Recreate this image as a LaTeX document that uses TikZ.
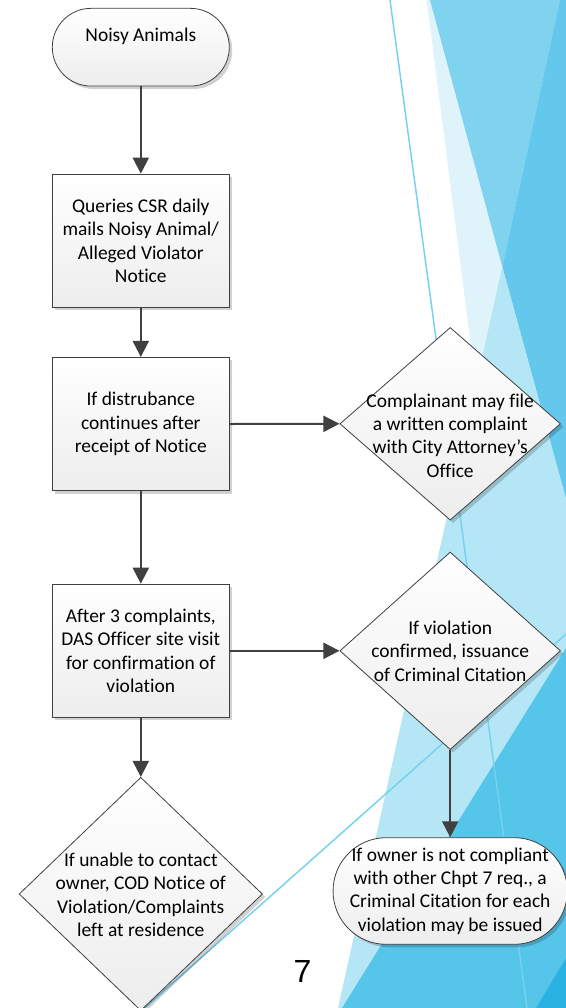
\documentclass[tikz,border=0pt]{standalone}
\usepackage{fontspec}
\setmainfont{Carlito}[Ligatures={NoCommon,NoContextual}]
\newfontfamily\arialfont{Liberation Sans}
\usetikzlibrary{shapes.geometric,shadows,arrows.meta}
\definecolor{bgZ}{HTML}{DFF3FB}
\definecolor{bgM}{HTML}{7FD3EF}
\definecolor{bgD}{HTML}{63C8EC}
\definecolor{bgL}{HTML}{B5E6F6}
\definecolor{bgW}{HTML}{55C5EA}
\definecolor{bgC}{HTML}{2AB2E3}
\definecolor{bgLine}{HTML}{74D2F0}
\definecolor{edge}{HTML}{404040}
\begin{document}
\begin{tikzpicture}[x=0.75pt,y=-0.75pt,
  shp/.style={draw=edge, line width=0.6pt, top color=white, bottom color=black!7,
    drop shadow={shadow xshift=2.2pt, shadow yshift=-2.2pt, fill=black, opacity=0.18}},
  procbox/.style={shp, rectangle, minimum width=132.75pt, minimum height=100pt, inner sep=0pt,
    align=center, font=\fontsize{14.6pt}{17.6pt}\selectfont},
  termbox/.style={shp, rectangle, inner sep=0pt, align=center, font=\fontsize{14.6pt}{17.6pt}\selectfont},
  dia/.style={shp, diamond, inner sep=0pt},
  txt/.style={align=center, font=\fontsize{14.6pt}{17.6pt}\selectfont, text=black, inner sep=0pt},
  arr/.style={draw=edge, line width=1.5pt, -{Triangle[length=12pt,width=12pt]}},
  thinline/.style={draw=bgLine, line width=1.1pt},
]
\useasboundingbox (0,0) rectangle (566,1008);
\clip (0,0) rectangle (566,1008);
% background facets
\fill[bgZ] (426.7,0) -- (566,0) -- (566,1008) -- (555.7,1008) -- cycle;
\fill[bgM] (430,0) -- (560,0) -- (502.3,266.7) -- cycle;
\fill[bgD] (560,0) -- (566,0) -- (566,499) -- (502.3,266.7) -- cycle;
\fill[bgL] (502.3,266.7) -- (566,499) -- (566,1008) -- (338,1008) -- cycle;
\fill[bgW] (566,648) -- (566,1008) -- (342,1008) -- cycle;
\fill[bgC] (566,958) -- (566,1008) -- (536,1008) -- cycle;
\draw[thinline] (390,0) -- (527,1008);
\draw[thinline] (140,1012) -- (566,634);
% nodes
\node[termbox, minimum width=132.75pt, minimum height=58.3pt, rounded corners=29.1pt] (start) at (140.8,47.2) {};
\node[txt] (starttxt) at (140.8,36) {Noisy Animals};
\node[procbox] (b1) at (140.8,240.7) {Queries CSR daily\\mails Noisy Animal/\\Alleged Violator\\Notice};
\node[procbox] (b2) at (140.8,424) {If distrubance\\continues after\\receipt of Notice};
\node[procbox] (b3) at (140.8,650.8) {After 3 complaints,\\DAS Officer site visit\\for confirmation of\\violation};
\node[dia, minimum width=165.5pt, minimum height=144.5pt] (d1) at (450.2,423.8) {};
\node[txt] (d1txt) at (450.2,435.5) {Complainant may file\\a written complaint\\with City Attorney’s\\Office};
\node[dia, minimum width=165.5pt, minimum height=148.2pt] (d2) at (450.2,650.8) {};
\node[txt] (d2txt) at (450.2,651) {If violation\\confirmed, issuance\\of Criminal Citation};
\node[termbox, minimum width=175.7pt, minimum height=80pt, rounded corners=39.9pt] (t2) at (450.2,891) {If owner is not compliant\\with other Chpt 7 req., a\\Criminal Citation for each\\violation may be issued};
\node[dia, minimum width=182.5pt, minimum height=175pt] (d3) at (140.8,894) {};
\node[txt] (d3txt) at (140.8,894.7) {If unable to contact\\owner, COD Notice of\\Violation/Complaints\\left at residence};
\node[font=\arialfont\fontsize{24pt}{28pt}\selectfont, inner sep=0pt] (pg) at (302.5,971.7) {7};
% connectors
\draw[arr] (start.south) -- (b1.north);
\draw[arr] (b1.south) -- (b2.north);
\draw[arr] (b2.east) -- (d1.west);
\draw[arr] (b2.south) -- (b3.north);
\draw[arr] (b3.east) -- (d2.west);
\draw[arr] (d2.south) -- (t2.north);
\draw[arr] (b3.south) -- (d3.north);
\end{tikzpicture}
\end{document}
